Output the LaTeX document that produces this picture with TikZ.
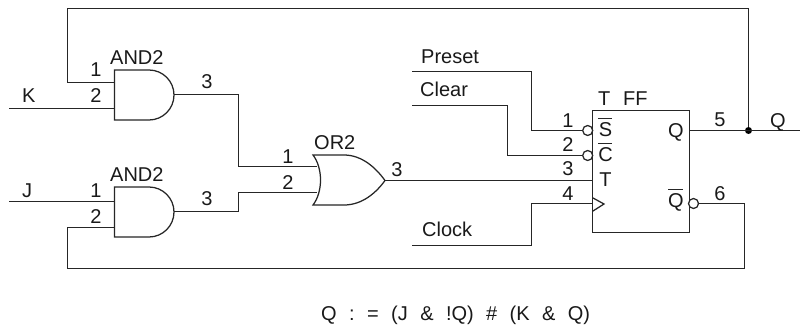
\documentclass[tikz,border=0pt]{standalone}
\usepackage{fontspec}
\setmainfont{Liberation Sans}
\newcommand{\eqgap}{\hspace{12.4pt}}
\begin{document}
\begin{tikzpicture}[x=1pt,y=-1pt,line join=miter,
  wire/.style={line width=1.25pt,draw=black!85},
  gate/.style={line width=1.25pt,draw=black!85,fill=white},
  lbl/.style={inner sep=0pt,anchor=base,font=\fontsize{20}{20}\selectfont,text=black!90},
  lblw/.style={inner sep=0pt,anchor=base west,font=\fontsize{20}{20}\selectfont,text=black!90},
  bubble/.style={circle,draw=black!85,line width=1.25pt,fill=white,minimum size=10pt,inner sep=0pt},
  jdot/.style={circle,fill=black,minimum size=7pt,inner sep=0pt},
  bar/.style={line width=1.1pt,draw=black!85}]
\useasboundingbox (0,0) rectangle (810,329);
% anchors
\coordinate (kstart) at (9,108.5);
\coordinate (kpin) at (114.5,108.5);
\coordinate (k1pin) at (114.5,82.5);
\coordinate (fbL1) at (67.5,82.5);
\coordinate (fbT1) at (67.5,8.5);
\coordinate (fbT2) at (748.5,8.5);
\coordinate (a1out) at (174,94.5);
\coordinate (m1a) at (238.5,94.5);
\coordinate (m1b) at (238.5,166.5);
\coordinate (or1) at (317,166.5);
\coordinate (or2) at (317,192.5);
\coordinate (m2b) at (238.5,192.5);
\coordinate (m2a) at (238.5,211.5);
\coordinate (a2out) at (174,211.5);
\coordinate (jstart) at (9,201.5);
\coordinate (jpin) at (114.5,201.5);
\coordinate (j2pin) at (114.5,227.5);
\coordinate (fbL2) at (67.5,227.5);
\coordinate (fbB1) at (67.5,268.5);
\coordinate (fbB2) at (744.5,268.5);
\coordinate (fbB3) at (744.5,203.5);
\coordinate (orout) at (385,180.5);
\coordinate (tpin) at (592.5,180.5);
\coordinate (qpin) at (689.5,130.5);
\coordinate (qend) at (800,130.5);
\coordinate (pstart) at (412,71.5);
\coordinate (p1) at (531.5,71.5);
\coordinate (p2) at (531.5,130.5);
\coordinate (cstart) at (412,105.5);
\coordinate (c1) at (507.5,105.5);
\coordinate (c2) at (507.5,155.5);
\coordinate (kstart2) at (412,245.5);
\coordinate (k1) at (531.5,245.5);
\coordinate (k2) at (531.5,203.5);
\coordinate (clkpin) at (592.5,203.5);
% gates
\draw[gate] (114.5,70) -- (149,70) arc[start angle=-90,end angle=90,radius=25] -- (114.5,120) -- cycle;
\draw[gate] (114.5,187) -- (149,187) arc[start angle=-90,end angle=90,radius=25] -- (114.5,237) -- cycle;
\draw[gate] (313,155) -- (344,155) .. controls (362,155) and (376,168) .. (385,180.5)
  .. controls (376,193) and (362,205) .. (344,205) -- (313,205)
  .. controls (323,192) and (323,168) .. (313,155) -- cycle;
\draw[gate] (592.5,110.5) rectangle (689.5,232.5);
% nodes with bubbles
\node[bubble] (sb) at (587.7,130.5) {};
\node[bubble] (cb) at (587.7,155.5) {};
\node[bubble] (qb) at (693.5,203.5) {};
\node[jdot] (jd) at (748.5,130.5) {};
% wires
\draw[wire] (kstart) -- (kpin);
\draw[wire] (k1pin) -- (fbL1) -- (fbT1) -- (fbT2) -- (jd);
\draw[wire] (a1out) -- (m1a) -- (m1b) -- (or1);
\draw[wire] (a2out) -- (m2a) -- (m2b) -- (or2);
\draw[wire] (jstart) -- (jpin);
\draw[wire] (j2pin) -- (fbL2) -- (fbB1) -- (fbB2) -- (fbB3) -- (qb);
\draw[wire] (orout) -- (tpin);
\draw[wire] (qpin) -- (qend);
\draw[wire] (pstart) -- (p1) -- (p2) -- (sb);
\draw[wire] (cstart) -- (c1) -- (c2) -- (cb);
\draw[wire] (kstart2) -- (k1) -- (k2) -- (clkpin);
\draw[wire] (592.5,197.7) -- (604,204) -- (592.5,211.3);
% labels
\node[lblw] (t1) at (110,64) {AND2};
\node[lblw] (t2) at (110,181.5) {AND2};
\node[lblw] (t3) at (314,149) {OR2};
\node[lbl] (n1) at (96,76) {1};
\node[lbl] (n2) at (96,102) {2};
\node[lbl] (n3) at (207,88) {3};
\node[lblw] (tk) at (22,102) {K};
\node[lblw] (tj) at (22,197) {J};
\node[lbl] (n4) at (96,197) {1};
\node[lbl] (n5) at (96,223) {2};
\node[lbl] (n6) at (207,205) {3};
\node[lbl] (n7) at (288,163) {1};
\node[lbl] (n8) at (288,189) {2};
\node[lbl] (n9) at (397,176) {3};
\node[lblw] (tp) at (421,63.5) {Preset};
\node[lblw] (tc) at (420,96) {Clear};
\node[lblw] (tl) at (422,236.7) {Clock};
\node[lbl] (n10) at (568,127) {1};
\node[lbl] (n11) at (568,151.7) {2};
\node[lbl] (n12) at (568,175.7) {3};
\node[lbl] (n13) at (568,200) {4};
\node[lblw] (tt) at (598,105) {T};
\node[lblw] (tf) at (623,105) {FF};
\node[lbl] (ts) at (605.5,136.7) {S};
\node[lbl] (tcc) at (605.5,161.7) {C};
\node[lbl] (ttt) at (605.5,186.7) {T};
\node[lbl] (tq) at (676,137) {Q};
\node[lbl] (tqb) at (676,207.7) {Q};
\draw[bar] (598,118.5) -- (612,118.5);
\draw[bar] (598,143.5) -- (612,143.5);
\draw[bar] (668,189.5) -- (683,189.5);
\node[lbl] (n14) at (720,126.7) {5};
\node[lbl] (tq2) at (778,127) {Q};
\node[lbl] (n15) at (720,200) {6};
\node[lblw] (eq) at (321,320) {Q\eqgap:\eqgap=\eqgap(J\eqgap\&\eqgap!Q)\eqgap\#\eqgap(K\eqgap\&\eqgap Q)};
\end{tikzpicture}
\end{document}
